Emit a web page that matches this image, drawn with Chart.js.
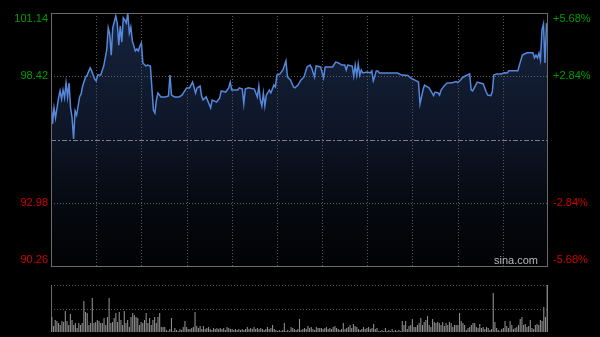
<!DOCTYPE html>
<html><head><meta charset="utf-8">
<script src="https://cdn.jsdelivr.net/npm/chart.js@4/dist/chart.umd.min.js"></script>
<style>
html,body{margin:0;padding:0;background:#000;width:600px;height:337px;overflow:hidden;}
#wrap{position:relative;width:600px;height:337px;}
#c1{position:absolute;left:0;top:0;}
#c2{position:absolute;left:0;top:270px;}
</style></head>
<body><div id="wrap"><canvas id="c1" width="600" height="270"></canvas><canvas id="c2" width="600" height="67"></canvas></div>
<script>
// ---- data ----
const prevClose = 95.70;
const priceTicks = [90.26, 92.98, 95.70, 98.42, 101.14];
const leftLabels = ['90.26', '92.98', '', '98.42', '101.14'];
const rightLabels = ['-5.68%', '-2.84%', '', '+2.84%', '+5.68%'];
const gridMinutes = [30, 60, 90, 120, 150, 180, 210, 240, 270, 300];
const totalMinutes = 330;

const minutes = [0,1,2,3,5,6,7,8,9,10,11,12,13,14,15,16,17,19,20,21,23,24,26,27,29,30,31,33,35,37,38,39,40,41,43,44,45,46,47,48,49,50,51,52,53,54,56,57,58,59,60,61,63,64,66,67,68,69,70,71,73,76,78,79,80,82,85,87,90,92,94,96,97,99,100,101,103,106,107,110,112,113,116,118,119,120,124,125,127,128,129,131,135,137,138,139,140,141,142,143,145,146,148,149,150,152,154,156,157,159,161,162,164,166,168,170,172,173,175,176,179,181,182,187,189,191,193,195,196,197,200,201,202,203,204,205,206,207,210,212,213,214,216,217,218,230,233,237,238,240,242,244,245,247,248,251,253,254,255,257,258,259,261,263,265,267,269,270,272,273,275,278,279,280,283,285,287,289,290,292,293,294,296,299,301,303,304,310,311,313,316,320,321,322,323,324,325,326,327,328,329,330];
const prices = [97.36,96.37,97.06,96.63,97.49,97.79,97.44,97.83,97.49,98.13,97.53,98.13,97.06,96.63,95.72,96.93,96.75,97.53,97.66,98.00,98.39,98.47,98.78,98.65,98.30,98.22,98.47,98.47,98.86,99.55,100.50,100.24,99.33,100.50,101.01,100.71,99.76,100.58,99.89,100.93,100.84,100.71,101.14,100.28,100.54,99.94,99.51,99.59,99.51,99.72,99.85,98.99,98.86,98.90,98.86,97.92,96.97,96.84,97.40,97.70,97.53,97.53,97.57,98.47,97.61,97.53,97.53,97.61,97.92,97.92,98.17,97.70,97.92,98.00,97.57,97.40,97.53,97.06,97.40,97.31,97.49,97.79,97.74,97.92,98.17,97.83,97.83,97.92,97.87,97.23,97.87,97.92,97.87,97.53,98.00,97.40,97.14,97.70,97.14,97.61,97.83,97.70,98.04,97.96,98.47,98.52,98.69,99.08,98.39,98.26,97.96,97.92,98.04,98.26,98.39,98.82,98.90,98.78,98.39,98.86,98.82,98.35,98.82,98.82,99.03,98.99,98.90,98.90,98.69,98.90,98.86,98.43,98.90,98.47,98.95,98.47,98.69,98.56,98.60,98.56,98.65,98.22,98.65,98.65,98.56,98.56,98.47,98.45,98.39,98.30,98.24,98.17,97.23,97.83,98.04,97.92,97.70,97.59,97.74,97.70,97.61,97.83,98.00,98.13,98.13,98.15,98.19,98.15,98.26,98.35,98.43,98.52,97.83,97.79,98.17,98.13,98.09,97.74,97.61,97.59,97.74,98.47,98.52,98.52,98.57,98.56,98.66,98.66,98.90,99.33,99.43,99.43,99.21,99.33,99.21,99.42,99.12,100.41,100.67,98.99,100.67,100.62];

const volumes = [15,6,12,11,9,7,11,10,21,11,7,18,12,7,9,4,9,7,9,31,20,19,7,9,34,9,10,12,11,9,9,14,7,15,34,9,10,14,19,10,20,12,7,21,9,12,5,15,19,17,15,14,7,10,9,12,19,9,14,7,12,15,9,15,19,5,5,5,2,1,3,14,1,4,2,1,3,2,5,11,5,3,3,4,5,20,6,4,6,3,6,3,4,5,3,2,4,3,4,3,4,3,4,2,5,4,3,3,2,3,2,3,2,3,2,3,5,3,4,3,5,3,4,3,4,3,2,3,5,3,4,7,3,2,1,2,1,2,9,1,2,1,5,4,3,2,
3,13,2,3,4,3,6,4,5,3,2,5,4,4,4,3,4,5,3,4,3,5,6,4,3,2,3,9,3,4,5,7,4,8,6,5,3,2,3,5,3,4,5,3,4,8,3,4,1,1,2,1,4,1,2,1,3,1,2,1,2,1,11,7,11,3,6,7,13,5,5,7,9,14,7,10,12,16,7,5,13,10,9,10,9,7,10,6,9,7,10,9,5,7,7,7,19,11,9,7,2,4,5,7,9,9,5,4,8,4,5,3,5,4,2,3,39,10,4,2,1,3,4,11,6,4,11,7,3,4,5,7,13,15,7,8,5,6,12,4,3,7,8,7,12,11,25,15,47];

// ---- styles ----
const GREEN = '#009c00', RED = '#d00000';
const FONT = '11px "Liberation Sans", Arial, sans-serif';

function hline(ctx, x1, x2, y){ctx.beginPath();ctx.moveTo(x1,y);ctx.lineTo(x2,y);ctx.stroke();}
function vline(ctx, x, y1, y2){ctx.beginPath();ctx.moveTo(x,y1);ctx.lineTo(x,y2);ctx.stroke();}

const mainDecor = {
  id: 'mainDecor',
  beforeDatasetsDraw(chart){
    const {ctx, chartArea:a, scales:{x, y}} = chart;
    ctx.save();
    ctx.lineWidth = 1;
    ctx.strokeStyle = '#575757';
    ctx.setLineDash([1,2]);
    gridMinutes.forEach(m => { const px = Math.round(x.getPixelForValue(m)) + 0.5; vline(ctx, px, a.top, a.bottom); });
    priceTicks.forEach(v => {
      if (v === priceTicks[0] || v === priceTicks[priceTicks.length-1]) return;
      const py = Math.round(y.getPixelForValue(v)) + 0.5;
      if (v === prevClose){ ctx.strokeStyle = '#7a7f8a'; ctx.setLineDash([5,2,2,2]); }
      else { ctx.strokeStyle = '#5f5f5f'; ctx.setLineDash([1,2]); }
      hline(ctx, a.left, a.right, py);
    });
    ctx.restore();
  },
  afterDraw(chart){
    const {ctx, chartArea:a, scales:{y}} = chart;
    ctx.save();
    ctx.strokeStyle = '#6a6a6a'; ctx.lineWidth = 1; ctx.setLineDash([]);
    ctx.strokeRect(Math.round(a.left)+0.5, Math.round(a.top)+0.5, Math.round(a.right-a.left)-1, Math.round(a.bottom-a.top));
    ctx.font = FONT;
    priceTicks.forEach((v, i) => {
      if (!leftLabels[i]) return;
      let py = y.getPixelForValue(v);
      if (i === priceTicks.length-1) py += 6;
      if (i === 0) py -= 6;
      ctx.fillStyle = v > prevClose ? GREEN : RED;
      ctx.textBaseline = 'middle';
      ctx.textAlign = 'right';
      ctx.fillText(leftLabels[i], a.left - 3, py);
      ctx.textAlign = 'left';
      ctx.fillText(rightLabels[i], a.right + 5, py);
    });
    ctx.fillStyle = '#b8b8b8';
    ctx.textAlign = 'right';
    ctx.textBaseline = 'middle';
    ctx.fillText('sina.com', a.right - 10, a.bottom - 5);
    ctx.restore();
  }
};

const c1 = document.getElementById('c1');
new Chart(c1, {
  type: 'line',
  data: { datasets: [{
    data: minutes.map((m, i) => ({x: m, y: prices[i]})),
    borderColor: '#5587da',
    borderWidth: 1.5,
    pointRadius: 0,
    tension: 0,
    fill: 'start',
    backgroundColor: (ctx) => {
      const a = ctx.chart.chartArea;
      if (!a) return 'rgba(20,32,55,0.9)';
      const g = ctx.chart.ctx.createLinearGradient(0, a.top, 0, a.bottom);
      g.addColorStop(0, 'rgba(30,48,85,0.75)');
      g.addColorStop(0.5, 'rgba(24,38,68,0.55)');
      g.addColorStop(1, 'rgba(10,14,24,0.2)');
      return g;
    }
  }]},
  options: {
    responsive: false, animation: false,
    layout: { padding: { left: 51, right: 52, top: 13, bottom: 4 } },
    plugins: { legend: {display: false}, tooltip: {enabled: false}, filler: {drawTime: 'beforeDraw'} },
    scales: {
      x: { type: 'linear', min: 0, max: totalMinutes, display: false },
      y: { min: priceTicks[0], max: priceTicks[priceTicks.length-1], display: false }
    }
  },
  plugins: [mainDecor]
});

const volDecor = {
  id: 'volDecor',
  beforeDatasetsDraw(chart){
    const {ctx, chartArea:a, scales:{y}} = chart;
    ctx.save();
    ctx.lineWidth = 1;
    ctx.strokeStyle = '#5e5e5e';
    ctx.setLineDash([1,2]);
    [y.max, y.max/2].forEach(v => { const py = Math.round(y.getPixelForValue(v)) + 0.5; hline(ctx, a.left, a.right, py); });
    ctx.setLineDash([]);
    ctx.strokeStyle = '#6a6a6a';
    vline(ctx, Math.round(a.left)+0.5, a.top, a.bottom);
    vline(ctx, Math.round(a.right)-0.5, a.top, a.bottom);
    ctx.restore();
  }
};

new Chart(document.getElementById('c2'), {
  type: 'bar',
  data: { labels: volumes.map((_, i) => i), datasets: [{
    data: volumes,
    backgroundColor: '#8c8c8c',
    barPercentage: 0.65,
    categoryPercentage: 1
  }]},
  options: {
    responsive: false, animation: false,
    layout: { padding: { left: 51, right: 52, top: 15, bottom: 5 } },
    plugins: { legend: {display: false}, tooltip: {enabled: false} },
    scales: {
      x: { display: false },
      y: { min: 0, max: Math.max(...volumes), display: false }
    }
  },
  plugins: [volDecor]
});
</script>
</body></html>
